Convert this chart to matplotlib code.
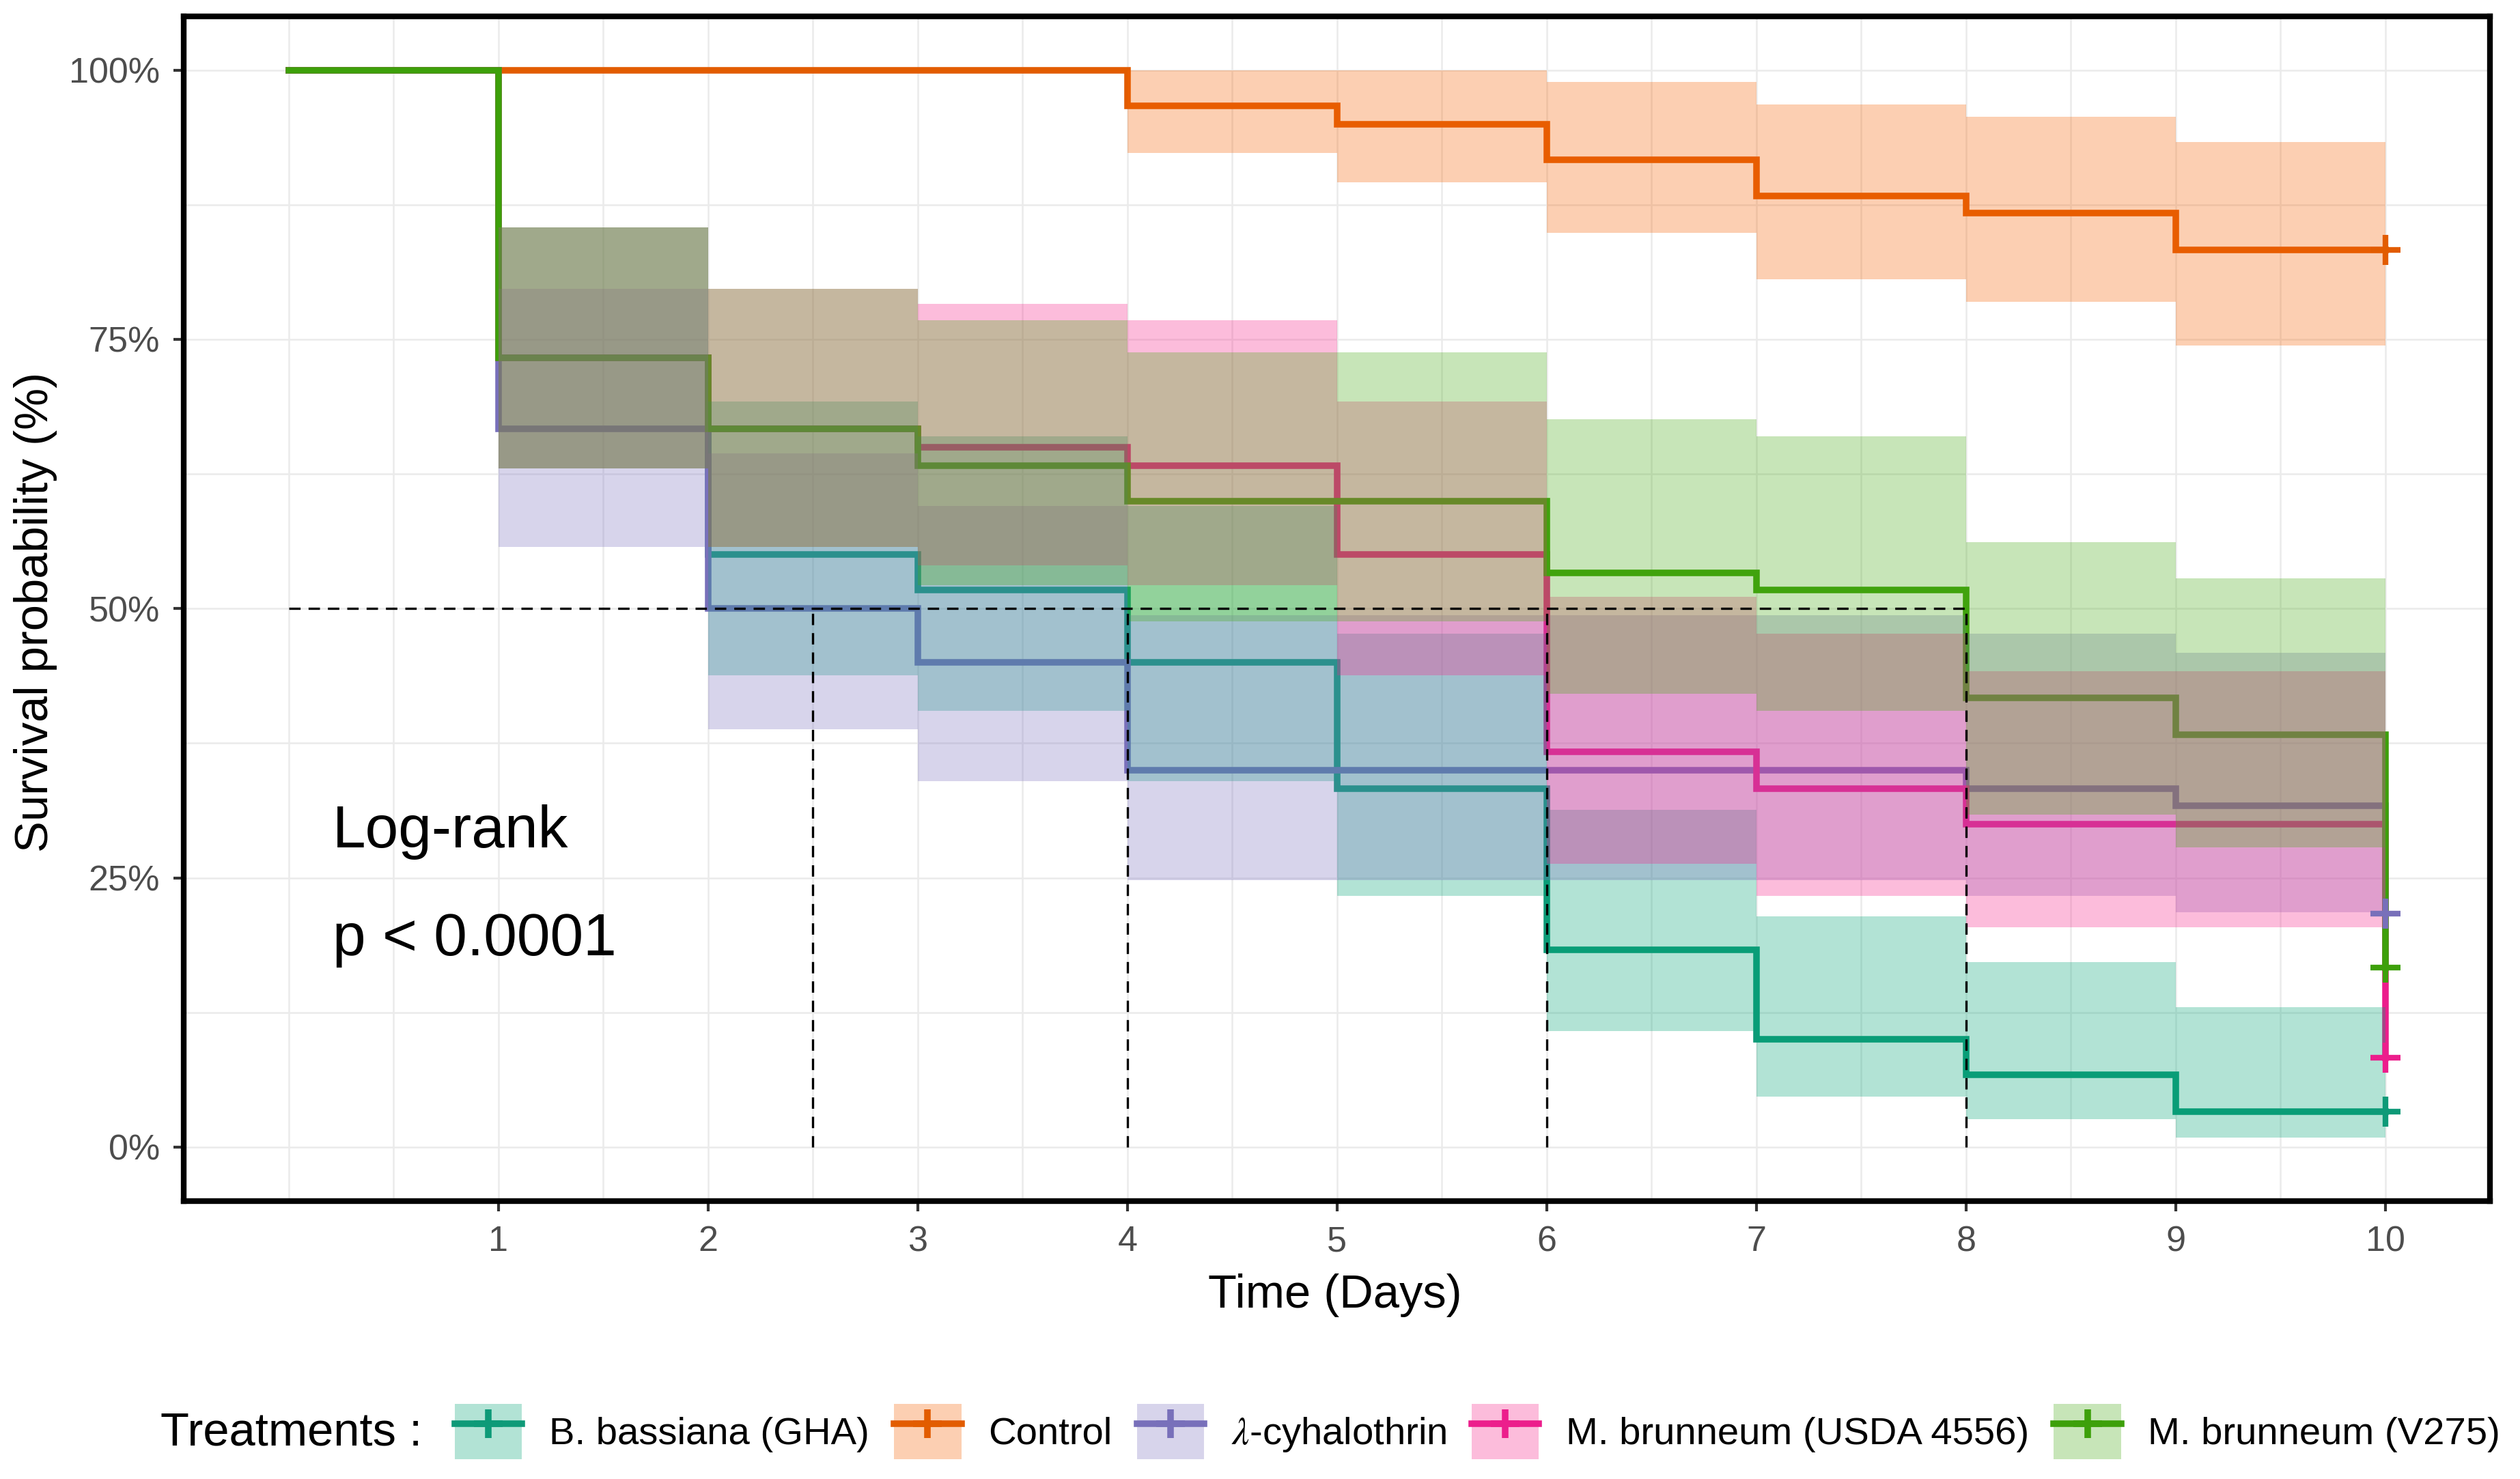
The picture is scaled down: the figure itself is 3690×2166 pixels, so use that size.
import numpy as np
import matplotlib
matplotlib.use("Agg")
import matplotlib.pyplot as plt
from matplotlib.patches import Patch
from matplotlib.lines import Line2D

plt.rcParams['font.family'] = ['Liberation Sans', 'DejaVu Sans']
plt.rcParams['mathtext.fontset'] = 'stix'

# ---------------- data ----------------
times = [0, 1, 2, 3, 4, 5, 6, 7, 8, 9, 10]

labels = ["B. bassiana (GHA)", "Control", r"$\lambda$-cyhalothrin",
          "M. brunneum (USDA 4556)", "M. brunneum (V275)"]

surv_bb = [1, 0.733, 0.550, 0.517, 0.450, 0.333, 0.183, 0.100, 0.067, 0.033, 0.033]
low_bb  = [1, 0.630, 0.438, 0.405, 0.340, 0.233, 0.108, 0.047, 0.026, 0.009, 0.009]
up_bb   = [1, 0.854, 0.692, 0.660, 0.595, 0.477, 0.313, 0.214, 0.172, 0.130, 0.130]

surv_ct = [1, 1, 1, 1, 0.967, 0.950, 0.917, 0.883, 0.867, 0.833, 0.833]
low_ct  = [1, 1, 1, 1, 0.923, 0.896, 0.849, 0.806, 0.785, 0.744, 0.744]
up_ct   = [1, 1, 1, 1, 1.000, 1.000, 0.989, 0.968, 0.957, 0.933, 0.933]

surv_lc = [1, 0.667, 0.500, 0.450, 0.350, 0.350, 0.350, 0.350, 0.333, 0.317, 0.217]
low_lc  = [1, 0.557, 0.388, 0.340, 0.248, 0.248, 0.248, 0.248, 0.233, 0.218, 0.134]
up_lc   = [1, 0.797, 0.644, 0.595, 0.494, 0.494, 0.494, 0.494, 0.477, 0.459, 0.351]

surv_us = [1, 0.733, 0.667, 0.650, 0.633, 0.550, 0.367, 0.333, 0.300, 0.300, 0.083]
low_us  = [1, 0.630, 0.557, 0.540, 0.522, 0.438, 0.263, 0.233, 0.204, 0.204, 0.036]
up_us   = [1, 0.854, 0.797, 0.783, 0.768, 0.692, 0.511, 0.477, 0.442, 0.442, 0.193]

surv_v2 = [1, 0.733, 0.667, 0.633, 0.600, 0.600, 0.533, 0.517, 0.417, 0.383, 0.167]
low_v2  = [1, 0.630, 0.557, 0.522, 0.488, 0.488, 0.421, 0.405, 0.309, 0.278, 0.095]
up_v2   = [1, 0.854, 0.797, 0.768, 0.738, 0.738, 0.676, 0.660, 0.562, 0.528, 0.293]

censor_time = 10
median_times = [2.5, 4, 6, 8]

x_ticks = [1, 2, 3, 4, 5, 6, 7, 8, 9, 10]
y_ticks = [0, 0.25, 0.5, 0.75, 1.0]
y_ticklabels = ["0%", "25%", "50%", "75%", "100%"]

line_colors = ['#0E9A78', '#E25C00', '#7870BA', '#EC1E8C', '#3DA00A']
fill_colors = ['#00A576', '#F86200', '#7D73C0', '#F8238A', '#48AC16']

surv_all = [surv_bb, surv_ct, surv_lc, surv_us, surv_v2]
low_all = [low_bb, low_ct, low_lc, low_us, low_v2]
up_all = [up_bb, up_ct, up_lc, up_us, up_v2]

# ---------------- figure ----------------
fig = plt.figure(figsize=(12.3, 7.22), dpi=300)
ax = fig.add_axes([0.073, 0.188, 0.9152, 0.801])
ax.set_xlim(-0.5, 10.5)
ax.set_ylim(-0.05, 1.05)

for v in np.arange(0, 10.01, 0.5):
    ax.axvline(v, color='#EBEBEB', lw=0.6, zorder=0)
for v in np.arange(0, 1.001, 0.125):
    ax.axhline(v, color='#EBEBEB', lw=0.6, zorder=0)

# survival lines first
for s, c in zip(surv_all, line_colors):
    ax.step(times, s, where='post', color=c, lw=2.3, zorder=2,
            solid_joinstyle='miter')

# confidence ribbons on top (as in survminer)
for lo, up, c in zip(low_all, up_all, fill_colors):
    ax.fill_between(times, lo, up, step='post', color=c, alpha=0.3,
                    lw=0, zorder=3)

# censor marks
for s, c in zip(surv_all, line_colors):
    ax.plot([censor_time], [s[-1]], marker='+', color=c, ms=10.5, mew=2.0,
            ls='none', zorder=4)

# median lines
ax.plot([0, max(median_times)], [0.5, 0.5], color='black', lw=0.8,
        dashes=(5, 3.5), zorder=5)
for m in median_times:
    ax.plot([m, m], [0, 0.5], color='black', lw=0.8, dashes=(5, 3.5), zorder=5)

ax.text(0.21, 0.278, "Log-rank", fontsize=21, va='baseline', ha='left', zorder=6)
ax.text(0.21, 0.178, "p < 0.0001", fontsize=21, va='baseline', ha='left', zorder=6)

ax.set_xticks(x_ticks)
ax.set_yticks(y_ticks)
ax.set_yticklabels(y_ticklabels)
ax.tick_params(axis='both', which='major', length=3.5, width=1.0,
               color='#333333', labelcolor='#4D4D4D', labelsize=12.5, pad=5)
for sp in ax.spines.values():
    sp.set_linewidth(2.0)
    sp.set_color('black')
    sp.set_zorder(10)

fig.text(0.5298, 0.1242, "Time (Days)", fontsize=16.5, ha='center', va='center')
fig.text(0.0141, 0.5863, "Survival probability (%)", fontsize=16.5,
         ha='center', va='center', rotation=90)

# legend
handles = []
for lc, fc in zip(line_colors, fill_colors):
    p = Patch(facecolor=fc, alpha=0.3, edgecolor='none')
    l = Line2D([0], [0], color=lc, lw=2.3, marker='+', ms=10, mew=2.3)
    handles.append((p, l))

fig.text(235 / 3690, 0.031, "Treatments :", fontsize=16.5, ha='left', va='center')
fig.legend(handles, labels, loc='center left', bbox_to_anchor=(666 / 3690, 0.032),
           ncol=5, frameon=False, fontsize=13.5, handlelength=1.75,
           handleheight=1.85, handletextpad=0.7, columnspacing=0.65,
           borderpad=0, borderaxespad=0)

fig.savefig("out.png", dpi=300)
